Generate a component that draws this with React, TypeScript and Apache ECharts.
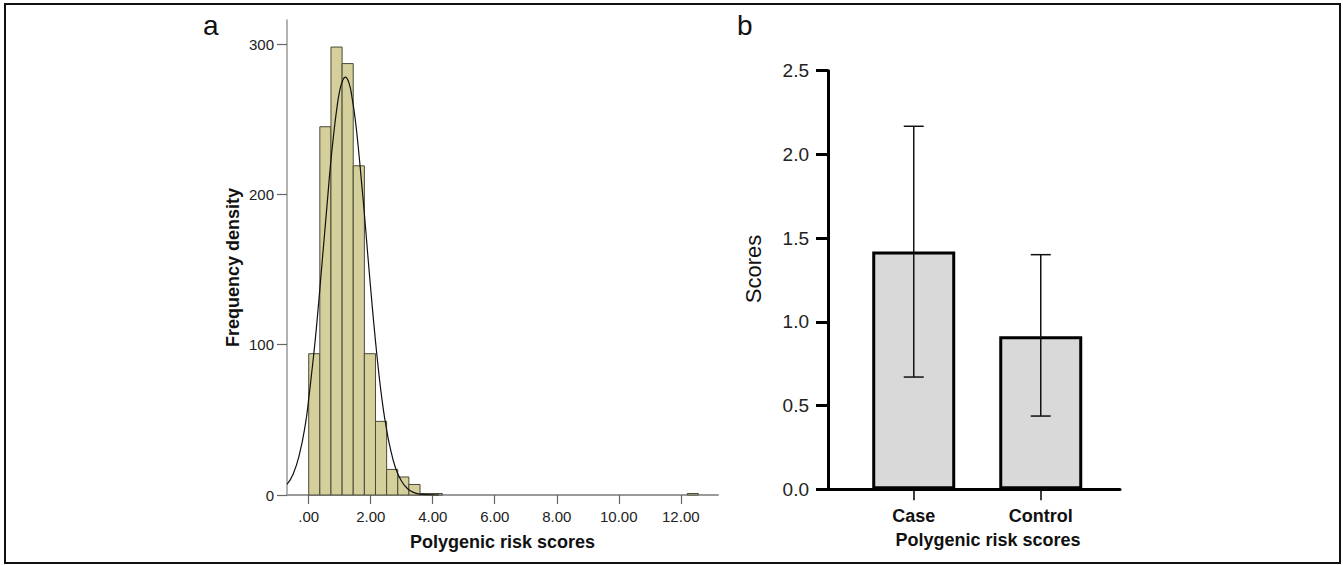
import React, { useEffect, useRef } from 'react';
import * as echarts from 'echarts';

// ---- Panel a: histogram of polygenic risk scores ----
const binStarts = [0, 0.359, 0.718, 1.077, 1.436, 1.795, 2.154, 2.513, 2.872, 3.231, 3.59, 3.949, 12.206];
const binEnds = [0.359, 0.718, 1.077, 1.436, 1.795, 2.154, 2.513, 2.872, 3.231, 3.59, 3.949, 4.308, 12.565];
const binCounts = [94, 245, 298, 287, 219, 94, 49, 17, 12, 7, 1, 1, 1];

const curveX = [-0.7, -0.5, -0.3, -0.1, 0.0, 0.1, 0.2, 0.3, 0.4, 0.5, 0.6, 0.7, 0.8, 0.9, 1.0, 1.1, 1.18, 1.3, 1.4, 1.5, 1.6, 1.7, 1.8, 1.9, 2.0, 2.1, 2.2, 2.3, 2.4, 2.5, 2.6, 2.8, 3.0, 3.2, 3.4, 3.6, 3.8, 4.0, 4.2];
const curveY = [7, 14, 27, 48, 64, 82, 101, 123, 147, 171, 195, 219, 239, 256, 269, 276, 278, 274, 264, 250, 231, 209, 186, 161, 137, 114, 93, 74, 58, 45, 34, 18, 9, 4, 1.6, 0.6, 0.2, 0.05, 0];

const histYTicks = [0, 100, 200, 300];
const histXTicks = [0, 2, 4, 6, 8, 10, 12];
const histXTickLabels = ['.00', '2.00', '4.00', '6.00', '8.00', '10.00', '12.00'];

// ---- Panel b: mean scores with error bars ----
const groups = ['Case', 'Control'];
const groupPos = [0, 1];
const means = [1.42, 0.913];
const errLow = [0.67, 0.437];
const errHigh = [2.168, 1.401];

const FONT = '"Liberation Sans", Arial, Helvetica, sans-serif';

export default function App() {
  const ref = useRef<HTMLDivElement>(null);

  useEffect(() => {
    document.body.style.margin = '0';
    if (!ref.current) return;
    const chart = echarts.init(ref.current, undefined, { renderer: 'svg' });

    const histData = binStarts.map((s, i) => [s, binEnds[i], binCounts[i]]);
    const curveData = curveX.map((x, i) => [x, curveY[i]]);
    const barData = groupPos.map((p, i) => [p, means[i]]);
    const errData = groupPos.map((p, i) => [p, errLow[i], errHigh[i]]);

    const option: any = {
      animation: false,
      backgroundColor: '#ffffff',
      textStyle: { fontFamily: FONT },
      grid: [
        { left: 287, top: 20, width: 431, height: 475, containLabel: false },
        { left: 828, top: 70.7, width: 292, height: 418.5, containLabel: false },
      ],
      xAxis: [
        {
          type: 'value',
          gridIndex: 0,
          min: -0.7,
          max: 13.2,
          splitLine: { show: false },
          axisLine: { show: true, onZero: false, lineStyle: { color: '#9a9a9a', width: 2 } },
          axisTick: { show: true, length: 9, customValues: histXTicks, lineStyle: { color: '#666', width: 1.2 } },
          axisLabel: {
            customValues: histXTicks,
            formatter: (v: number) => histXTickLabels[histXTicks.indexOf(v)] ?? '',
            fontSize: 15,
            color: '#222',
            margin: 14,
            fontFamily: FONT,
          },
          name: 'Polygenic risk scores',
          nameLocation: 'middle',
          nameGap: 38,
          nameTextStyle: { fontSize: 18, fontWeight: 'bold', color: '#111', fontFamily: FONT },
        },
        {
          type: 'value',
          gridIndex: 1,
          min: -0.675,
          max: 1.624,
          splitLine: { show: false },
          axisLine: { show: true, onZero: false, lineStyle: { color: '#000', width: 3 } },
          axisTick: { show: true, length: 11, customValues: groupPos, lineStyle: { color: '#000', width: 1.5 } },
          axisLabel: {
            customValues: groupPos,
            formatter: (v: number) => groups[groupPos.indexOf(v)] ?? '',
            fontSize: 18,
            fontWeight: 'bold',
            color: '#111',
            margin: 18,
            fontFamily: FONT,
          },
          name: 'Polygenic risk scores',
          nameLocation: 'middle',
          nameGap: 42,
          nameTextStyle: { fontSize: 18, fontWeight: 'bold', color: '#111', fontFamily: FONT, padding: [0, 0, 0, 28] },
        },
      ],
      yAxis: [
        {
          type: 'value',
          gridIndex: 0,
          min: 0,
          max: 316,
          splitLine: { show: false },
          axisLine: { show: true, onZero: false, lineStyle: { color: '#9a9a9a', width: 1.5 } },
          axisTick: { show: true, length: 10, customValues: histYTicks, lineStyle: { color: '#666', width: 1.2 } },
          axisLabel: { customValues: histYTicks, fontSize: 15, color: '#222', margin: 13, fontFamily: FONT },
          name: 'Frequency density',
          nameLocation: 'middle',
          nameGap: 45,
          nameRotate: 90,
          nameTextStyle: { fontSize: 18, fontWeight: 'bold', color: '#111', fontFamily: FONT, padding: [0, 20, 0, 0] },
        },
        {
          type: 'value',
          gridIndex: 1,
          min: 0,
          max: 2.5,
          interval: 0.5,
          splitLine: { show: false },
          axisLine: { show: true, onZero: false, lineStyle: { color: '#000', width: 3 } },
          axisTick: { show: true, length: 12, lineStyle: { color: '#000', width: 3 } },
          axisLabel: { fontSize: 19, color: '#222', margin: 19, formatter: (v: number) => v.toFixed(1), fontFamily: FONT },
          name: 'Scores',
          nameLocation: 'middle',
          nameGap: 64,
          nameRotate: 90,
          nameTextStyle: { fontSize: 22, color: '#111', fontFamily: FONT, padding: [0, 0, 0, 22] },
        },
      ],
      series: [
        {
          type: 'custom',
          xAxisIndex: 0,
          yAxisIndex: 0,
          encode: { x: [0, 1], y: 2 },
          data: histData,
          renderItem: (params: any, api: any) => {
            const p0 = api.coord([api.value(0), api.value(2)]);
            const p1 = api.coord([api.value(1), 0]);
            return {
              type: 'rect',
              shape: { x: p0[0], y: p0[1], width: p1[0] - p0[0], height: p1[1] - p0[1] },
              style: { fill: '#d5cf9b', stroke: '#4a4a3a', lineWidth: 1 },
            };
          },
          z: 2,
        },
        {
          type: 'line',
          xAxisIndex: 0,
          yAxisIndex: 0,
          data: curveData,
          smooth: true,
          showSymbol: false,
          symbol: 'none',
          lineStyle: { color: '#111', width: 1.2 },
          z: 3,
        },
        {
          type: 'bar',
          xAxisIndex: 1,
          yAxisIndex: 1,
          data: barData,
          barWidth: 83,
          itemStyle: { color: '#d9d9d9', borderColor: '#000', borderWidth: 3 },
          z: 2,
        },
        {
          type: 'custom',
          xAxisIndex: 1,
          yAxisIndex: 1,
          encode: { x: 0, y: [1, 2] },
          data: errData,
          renderItem: (params: any, api: any) => {
            const lo = api.coord([api.value(0), api.value(1)]);
            const hi = api.coord([api.value(0), api.value(2)]);
            const cap = 10;
            const st = { stroke: '#111', lineWidth: 1.5 };
            return {
              type: 'group',
              children: [
                { type: 'line', shape: { x1: lo[0], y1: lo[1], x2: hi[0], y2: hi[1] }, style: st },
                { type: 'line', shape: { x1: hi[0] - cap, y1: hi[1], x2: hi[0] + cap, y2: hi[1] }, style: st },
                { type: 'line', shape: { x1: lo[0] - cap, y1: lo[1], x2: lo[0] + cap, y2: lo[1] }, style: st },
              ],
            };
          },
          z: 4,
        },
      ],
      graphic: [
        {
          type: 'rect',
          shape: { x: 5, y: 4, width: 1335, height: 559 },
          style: { fill: 'none', stroke: '#111', lineWidth: 2 },
          z: 10,
        },
        {
          type: 'text',
          x: 203,
          y: 11,
          style: { text: 'a', fontSize: 28, fill: '#111', fontFamily: FONT },
        },
        {
          type: 'text',
          x: 737,
          y: 11,
          style: { text: 'b', fontSize: 28, fill: '#111', fontFamily: FONT },
        },
      ],
    };

    chart.setOption(option);
    return () => chart.dispose();
  }, []);

  return <div ref={ref} style={{ width: 1343, height: 565 }} />;
}
